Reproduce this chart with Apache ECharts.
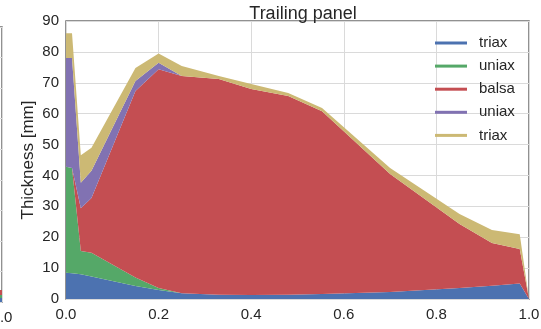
<!DOCTYPE html>
<html>
<head>
<meta charset="utf-8">
<script src="https://cdn.jsdelivr.net/npm/echarts@6/dist/echarts.min.js"></script>
<style>
  html, body { margin: 0; padding: 0; background: #fff; }
  #chart { width: 541px; height: 329px; }
</style>
</head>
<body>
<div id="chart"></div>
<script>
// Chordwise position (normalised) of the trailing panel stations
const position = [0, 0.013, 0.032, 0.055, 0.15, 0.2, 0.25, 0.33, 0.4, 0.48, 0.553, 0.7, 0.85, 0.92, 0.98, 1.0];

// Layer thicknesses [mm], bottom to top
const triaxInner = [8.5, 8.3, 8.0, 7.3, 4.2, 2.9, 1.9, 1.4, 1.3, 1.4, 1.6, 2.3, 3.6, 4.3, 5.0, 0];
const uniaxInner = [34.3, 34.1, 7.5, 7.7, 2.8, 0.7, 0, 0, 0, 0, 0, 0, 0, 0, 0, 0];
const balsa      = [0, 0, 13.9, 17.7, 60.3, 70.8, 70.3, 69.8, 66.7, 64.3, 59.2, 38.2, 20.7, 13.8, 11.2, 0];
const uniaxOuter = [35.2, 35.6, 8.2, 8.8, 3.3, 2.1, 0, 0, 0, 0, 0, 0, 0, 0, 0, 0];
const triaxOuter = [8.0, 8.0, 8.9, 7.5, 4.2, 3.0, 3.2, 1.0, 1.6, 1.0, 1.0, 1.9, 3.2, 4.2, 4.8, 0];

// Neighbouring (leading) panel, only its trailing end is in view
const leadPosition = [0.9, 1.0];
const leadTriax = [1.3, 1.3];
const leadUniax = [1.0, 1.0];
const leadBalsa = [1.6, 1.6];

const layerKeys = ['triax-in', 'uniax-in', 'balsa', 'uniax-out', 'triax-out'];
const layerLabels = ['triax', 'uniax', 'balsa', 'uniax', 'triax'];
const layerColors = ['#4C72B0', '#55A868', '#C44E52', '#8172B2', '#CCB974'];
const layers = [triaxInner, uniaxInner, balsa, uniaxOuter, triaxOuter];

const yTicks = { min: 0, max: 90, interval: 10 };
const xTicks = { min: 0, max: 1, interval: 0.2 };

const textColor = '#262626';
const font = '"Liberation Sans", Arial, sans-serif';

// Thickness is the first dimension so that the stack accumulates along y.
function areaSeries(name, color, xs, ys, xi, yi, stack) {
  return {
    name: name,
    type: 'line',
    xAxisIndex: xi,
    yAxisIndex: yi,
    stack: stack,
    symbol: 'none',
    color: color,
    lineStyle: { width: 0 },
    areaStyle: { color: color, opacity: 1 },
    emphasis: { disabled: true },
    encode: { x: 1, y: 0 },
    data: xs.map((x, i) => [ys[i], x])
  };
}

const series = layers.map((vals, i) =>
  areaSeries(layerKeys[i], layerColors[i], position, vals, 0, 0, 'trailing'));

const leadLayers = [leadTriax, leadUniax, leadBalsa];
leadLayers.forEach((vals, i) => {
  series.push(areaSeries('lead-' + i, layerColors[i], leadPosition, vals, 1, 1, 'leading'));
});

const gridBorder = '#6e6e6e';
const splitColor = '#dadada';

function xAxisDef(gridIndex) {
  return {
    type: 'value', gridIndex: gridIndex,
    min: xTicks.min, max: xTicks.max, interval: xTicks.interval,
    axisLine: { show: false }, axisTick: { show: false },
    splitLine: { show: true, lineStyle: { color: splitColor, width: 1 } },
    axisLabel: { color: textColor, fontSize: 15, fontFamily: font, margin: 8,
                 formatter: v => v.toFixed(1) }
  };
}
function yAxisDef(gridIndex, withName) {
  const ax = {
    type: 'value', gridIndex: gridIndex,
    min: yTicks.min, max: yTicks.max, interval: yTicks.interval,
    axisLine: { show: false }, axisTick: { show: false },
    splitLine: { show: true, lineStyle: { color: splitColor, width: 1 } },
    axisLabel: { show: withName, color: textColor, fontSize: 15, fontFamily: font, margin: 7 }
  };
  if (withName) {
    ax.name = 'Thickness [mm]';
    ax.nameLocation = 'middle';
    ax.nameGap = 29;
    ax.nameMoveOverlap = false;
    ax.nameTextStyle = { color: textColor, fontSize: 17, fontFamily: font };
  }
  return ax;
}

const chart = echarts.init(document.getElementById('chart'), null, { renderer: 'canvas' });
chart.setOption({
  animation: false,
  backgroundColor: '#ffffff',
  title: {
    text: 'Trailing panel',
    left: 298, top: 0, textAlign: 'center',
    textStyle: { color: textColor, fontSize: 18, fontWeight: 'normal', fontFamily: font }
  },
  legend: {
    data: layerKeys,
    formatter: name => layerLabels[layerKeys.indexOf(name)],
    orient: 'vertical',
    left: 435, top: 35,
    padding: 0,
    icon: 'rect',
    itemWidth: 32, itemHeight: 3,
    itemGap: 7.1,
    selectedMode: false,
    textStyle: { color: textColor, fontSize: 15, fontFamily: font, lineHeight: 16, padding: [0, 0, 0, 7] }
  },
  grid: [
    { left: 66, right: 12, top: 21, bottom: 30, outerBoundsMode: 'none', containLabel: false,
      show: true, borderColor: gridBorder, borderWidth: 1.5 },
    { left: -455, width: 457, top: 27, bottom: 27, outerBoundsMode: 'none', containLabel: false,
      show: true, borderColor: gridBorder, borderWidth: 1.5 }
  ],
  xAxis: [xAxisDef(0), xAxisDef(1)],
  yAxis: [yAxisDef(0, true), yAxisDef(1, false)],
  series: series
});
</script>
</body>
</html>
